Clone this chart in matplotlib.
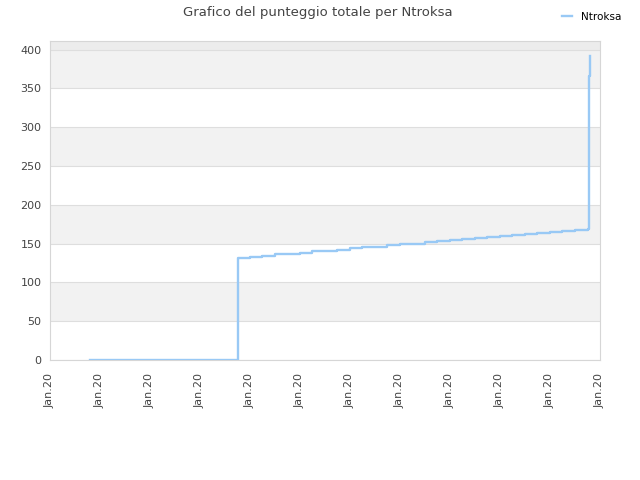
import matplotlib
matplotlib.use("Agg")
import matplotlib.pyplot as plt

# x positions in tick units (all ticks are "Jan.20"), step values of the score
days = [0.8, 3.76, 3.77, 3.78, 4.0, 4.25, 4.5, 4.75, 5.0, 5.25, 5.5, 5.75,
        6.0, 6.25, 6.5, 6.75, 7.0, 7.25, 7.5, 7.75, 8.0, 8.25, 8.5, 8.75,
        9.0, 9.25, 9.5, 9.75, 10.0, 10.25, 10.5, 10.77, 10.78, 10.8]
score = [0, 83, 131, 132, 133, 134, 136, 137, 138, 140, 141, 142,
         144, 145, 146, 148, 149, 150, 152, 153, 154, 156, 157, 158,
         160, 161, 162, 164, 165, 166, 168, 169, 366, 392]
tick_pos = list(range(12))
tick_labels = ["Jan.20"] * 12
y_ticks = [0, 50, 100, 150, 200, 250, 300, 350, 400]

LINE = "#99c9f5"
TXT = "#444444"

fig = plt.figure(figsize=(6.4, 4.8), dpi=100)
ax = fig.add_axes([0.078, 0.25, 0.8595, 0.6646])

# alternating bands
for lo in range(0, 450, 50):
    if (lo // 50) % 2 == 1:
        ax.axhspan(lo, lo + 50, color="#f2f2f2", zorder=0, lw=0)
ax.axhspan(400, 450, color="#ececec", zorder=0, lw=0)
for y in y_ticks:
    ax.axhline(y, color="#dedede", lw=0.8, zorder=1)

ax.plot(days, score, drawstyle="steps-post", color=LINE, lw=1.7, zorder=3,
        label="Ntroksa")

ax.set_xlim(0, 11)
ax.set_ylim(0, 411)
ax.set_xticks(tick_pos)
ax.set_xticklabels(tick_labels, rotation=90, fontsize=8, color=TXT)
ax.set_yticks(y_ticks)
ax.set_yticklabels([str(v) for v in y_ticks], fontsize=8, color=TXT)
ax.tick_params(axis="y", length=0, pad=6)
ax.tick_params(axis="x", length=0, pad=9)
for s in ax.spines.values():
    s.set_color("#d6d6d6")
    s.set_linewidth(0.8)

fig.text(0.497, 0.973, "Grafico del punteggio totale per Ntroksa", ha="center",
         va="center", fontsize=9.5, color=TXT)
fig.legend(loc="upper right", bbox_to_anchor=(0.985, 0.995), frameon=False,
           fontsize=7.5, handlelength=1.0, handletextpad=0.8)

fig.savefig("out.png", facecolor="white")
